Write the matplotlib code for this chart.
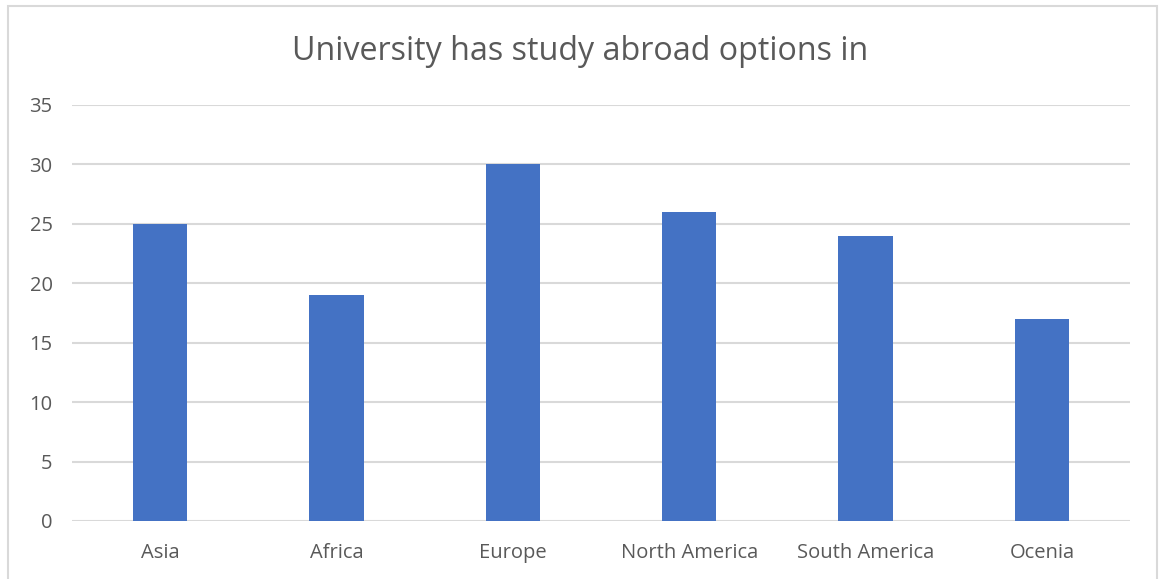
import matplotlib.pyplot as plt
from matplotlib.patches import Rectangle

regions = ['Asia', 'Africa', 'Europe', 'North America', 'South America', 'Ocenia']
counts = [25, 19, 30, 26, 24, 17]
yticks = [0, 5, 10, 15, 20, 25, 30, 35]

bar_color = '#4472C4'
text_color = '#595959'
grid_color = '#D9D9D9'

plt.rcParams['font.family'] = ['Open Sans', 'DejaVu Sans']

fig = plt.figure(figsize=(11.6, 5.79), dpi=100)

# light chart-area frame, open at the bottom
fig.patches.append(Rectangle((8 / 1160, -0.05), 1149 / 1160, 1.05 - 6 / 579,
                             transform=fig.transFigure, fill=False,
                             edgecolor='#D9D9D9', lw=1.5))

ax = fig.add_axes([72 / 1160, 1 - 521 / 579, 1058 / 1160, 416 / 579])
x = range(len(regions))
ax.bar(x, counts, width=0.31, color=bar_color, zorder=3)

ax.set_xlim(-0.5, len(regions) - 0.5)
ax.set_ylim(0, 35)
ax.set_yticks(yticks)
ax.set_xticks(list(x))
ax.set_xticklabels(regions)
ax.yaxis.grid(True, color=grid_color, lw=1.5, zorder=0)
for s in ax.spines.values():
    s.set_visible(False)
ax.tick_params(axis='both', length=0, labelsize=14.5, colors=text_color)
ax.tick_params(axis='x', pad=16)
ax.tick_params(axis='y', pad=14)

fig.text(0.5, 1 - 52 / 579, 'University has study abroad options in',
         ha='center', va='center', fontsize=23.2, color=text_color)

fig.savefig('out.png', dpi=100)
